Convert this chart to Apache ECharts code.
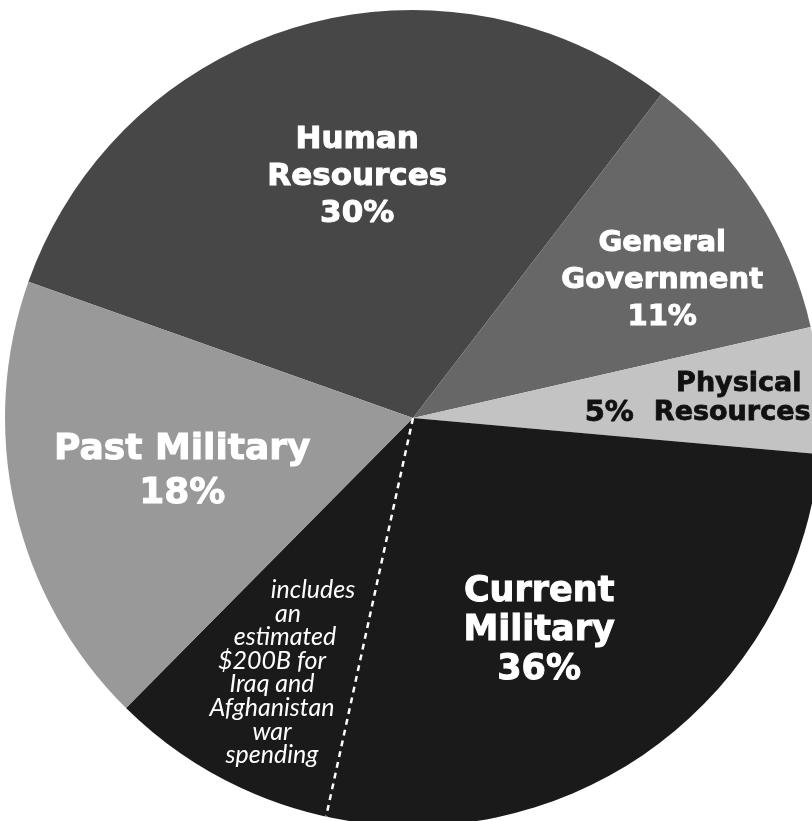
<!DOCTYPE html>
<html><head><meta charset="utf-8">
<script src="https://cdn.jsdelivr.net/npm/echarts@6/dist/echarts.min.js"></script>
<style>html,body{margin:0;padding:0;background:#fff}#c{width:812px;height:821px}</style>
</head><body><div id="c"></div>
<script>
// ---- data ----
const categories = ['Human Resources', 'General Government', 'Physical Resources', 'Current Military', 'Past Military'];
const shares = [30, 11, 5, 36, 18];
const warShareOfCurrent = 9; // part of Current Military set apart by the dashed line
const noteLines = ['includes', 'an', 'estimated', '$200B for', 'Iraq and', 'Afghanistan', 'war', 'spending'];

// ---- styles ----
const sliceColors = ['#474747', '#676767', '#c3c3c3', '#1a1a1a', '#999999'];
const FONT = 'DejaVu Sans';
const labelStyles = [
  { fontSize: 31, lineHeight: 37, color: '#fff', dx: 3, dy: -43 },
  { fontSize: 29, lineHeight: 37, color: '#fff', dx: 75, dy: -26 },
  { fontSize: 27, lineHeight: 29, color: '#111', dx: 191, dy: -5, align: 'right' },
  { fontSize: 35, lineHeight: 39, color: '#fff', dx: 55, dy: 19 },
  { fontSize: 36, lineHeight: 44, color: '#fff', dx: -29, dy: 7 }
];
const START = 160.5, CX = 413, CY = 418, R = 408;

function labelText(p) {
  if (p.name === 'Physical Resources') return '{n1|Physical}\n{p|' + p.value + '%}{n|Resources}';
  if (p.name === 'Past Military') return p.name + '\n' + p.value + '%';
  return p.name.split(' ').join('\n') + '\n' + p.value + '%';
}

const pieData = categories.map((name, i) => ({
  name, value: shares[i],
  itemStyle: { color: sliceColors[i] },
  label: {
    fontSize: labelStyles[i].fontSize, lineHeight: labelStyles[i].lineHeight, color: labelStyles[i].color,
    textBorderColor: labelStyles[i].color, textBorderWidth: 1
  }
}));

const dashAt = shares.slice(0, 4).reduce((a, b) => a + b, 0) - warShareOfCurrent;

const NOTE_SIZE = 25, NOTE_LH = 23.6;
const noteText = noteLines.map((t, i) => i < 3 ? '{i' + i + '|' + t + '}' : t).join('\n');
const noteRich = {};
[82, 32, 26].forEach((pad, i) => {
  noteRich['i' + i] = { padding: [0, 0, 0, pad], fontSize: NOTE_SIZE, fontStyle: 'italic', fontFamily: 'Lato', fill: '#fff', lineHeight: NOTE_LH };
});

const chart = echarts.init(document.getElementById('c'), null, { renderer: 'canvas' });
chart.setOption({
  animation: false,
  backgroundColor: '#fff',
  polar: { center: [CX, CY], radius: R },
  angleAxis: { type: 'value', min: 0, max: 100, startAngle: START, clockwise: true, show: false },
  radiusAxis: { type: 'value', min: 0, max: 1, show: false },
  graphic: [{
    type: 'text', x: 272, y: 672.5, silent: true, z: 100,
    style: {
      text: noteText, fill: '#fff', fontSize: NOTE_SIZE, fontStyle: 'italic', fontFamily: 'Lato',
      align: 'center', verticalAlign: 'middle', lineHeight: NOTE_LH, rich: noteRich
    }
  }],
  series: [{
    type: 'pie',
    center: [CX, CY], radius: R,
    startAngle: START, clockwise: true,
    silent: true, avoidLabelOverlap: false,
    itemStyle: { borderWidth: 0 },
    label: {
      show: true, position: 'inside', formatter: labelText,
      fontFamily: FONT, fontWeight: 'bold',
      rich: {
        n: { fontFamily: FONT, fontWeight: 'bold', fontSize: 27, lineHeight: 29, color: '#111', textBorderColor: '#111', textBorderWidth: 0.8 },
        n1: { fontFamily: FONT, fontWeight: 'bold', fontSize: 27, lineHeight: 29, color: '#111', textBorderColor: '#111', textBorderWidth: 0.8, padding: [0, 9, 0, 0] },
        p: { fontFamily: FONT, fontWeight: 'bold', fontSize: 29, lineHeight: 29, color: '#111', textBorderColor: '#111', textBorderWidth: 0.8, padding: [0, 20, 0, 0] }
      }
    },
    labelLine: { show: false },
    labelLayout: function (params) {
      const s = labelStyles[params.dataIndex];
      const o = { dx: s.dx, dy: s.dy };
      if (s.align) o.align = s.align;
      return o;
    },
    data: pieData
  }, {
    type: 'line', coordinateSystem: 'polar', silent: true, symbol: 'none', z: 5,
    lineStyle: { color: '#fff', width: 2.5, type: [6, 5] },
    data: [[0, dashAt], [1, dashAt]]
  }]
});
</script></body></html>
